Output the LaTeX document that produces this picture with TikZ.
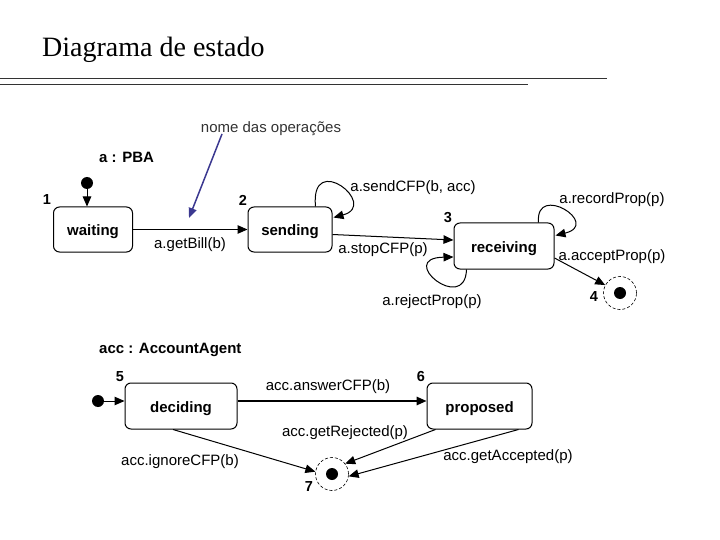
\documentclass[tikz,border=0pt]{standalone}
\usepackage{fontspec}
\setmainfont{Liberation Serif}
\setsansfont{Liberation Sans}
\usetikzlibrary{arrows.meta,calc}
\definecolor{notecol}{HTML}{3B3890}
\definecolor{txtgray}{HTML}{333333}
\begin{document}
\begin{tikzpicture}[x=1pt,y=-1pt,
  every node/.style={font=\sffamily\fontsize{15}{17}\selectfont, inner sep=0pt},
  state/.style={draw=black, line width=1pt, rounded corners=6pt, text height=12pt, text depth=0pt, font=\sffamily\bfseries\fontsize{15}{17}\selectfont},
  lbl/.style={font=\sffamily\fontsize{15}{17}\selectfont, yshift=-1.5pt},
  num/.style={font=\sffamily\bfseries\fontsize{14.5}{17}\selectfont},
  hdr/.style={font=\sffamily\bfseries\fontsize{15}{17}\selectfont, anchor=west},
  initdot/.style={circle, fill=black, minimum size=12pt},
  finring/.style={circle, draw=black, dashed, dash pattern=on 3pt off 2pt, line width=0.6pt, minimum size=33pt},
  findot/.style={circle, fill=black, minimum size=12pt},
  tr/.style={-{Triangle[length=10pt,width=8.5pt]}, line width=1pt},
]
\useasboundingbox (0,0) rectangle (720,540);

% title and rules
\node[font=\rmfamily\fontsize{28}{32}\selectfont, anchor=west] (title) at (42,50) {Diagrama de estado};
\coordinate (r1a) at (0,78); \coordinate (r1b) at (607,78);
\coordinate (r2a) at (0,84); \coordinate (r2b) at (528,84);
\draw[line width=0.8pt, black!80] (r1a) -- (r1b);
\draw[line width=0.8pt, black!80] (r2a) -- (r2b);

% annotation
\node[lbl, text=txtgray] (note) at (271,127) {nome das operações};
\coordinate (notetip) at (189,218);
\draw[-{Triangle[length=10pt,width=8pt]}, line width=1.5pt, notecol] (222,134) -- (notetip);

% ---------- a : PBA ----------
\node[hdr] (pba) at (99,157) {a : PBA};
\node[initdot] (i1) at (87,183) {};
\node[state, minimum width=79pt, minimum height=45pt] (waiting) at (93,229.5) {waiting};
\node[state, minimum width=84pt, minimum height=45pt] (sending) at (290,229.5) {sending};
\node[state, minimum width=100pt, minimum height=46pt] (recv) at (504,246) {receiving};
\node[finring] (f4) at (620,293) {};
\node[findot] (f4d) at (f4.center) {};

\node[num] (n1) at (47,200) {1};
\node[num] (n2) at (243,200) {2};
\node[num] (n3) at (448,218) {3};
\node[num] (n4) at (594,297) {4};

\draw[tr] (i1) -- (i1 |- waiting.north);
\draw[tr] (waiting.east) -- (sending.west);
\node[lbl] (lgetbill) at (190,243) {a.getBill(b)};

% sendCFP self loop
\draw[tr] ($(sending.north east)+(-17,0)$) .. controls (310,150) and (380,205) .. ($(sending.north east)+(1,11)$);
\node[lbl] (lsend) at (413,186) {a.sendCFP(b, acc)};

% stopCFP
\draw[tr] ($(sending.east)+(0,5)$) -- ($(recv.west)+(0,-6)$);
\node[lbl] (lstop) at (383,248) {a.stopCFP(p)};

% recordProp self loop
\draw[tr] ($(recv.north east)+(-16,0)$) .. controls (535,182) and (602,224) .. ($(recv.north east)+(1,13)$);
\node[lbl] (lrec) at (612,198) {a.recordProp(p)};

% rejectProp self loop
\draw[tr] ($(recv.south west)+(13,0)$) .. controls (465,315) and (395,258) .. ($(recv.west)+(0,11)$);
\node[lbl] (lrej) at (432,300) {a.rejectProp(p)};

% acceptProp
\draw[tr] ($(recv.east)+(0,12)$) -- (f4);
\node[lbl] (lacc) at (612,255) {a.acceptProp(p)};

% ---------- acc : AccountAgent ----------
\node[hdr] (aa) at (99,350) {acc : AccountAgent};
\node[initdot] (i5) at (98,401) {};
\node[state, minimum width=112pt, minimum height=46pt] (dec) at (181,406) {deciding};
\node[state, minimum width=105pt, minimum height=46pt] (prop) at (479.5,406) {proposed};
\node[finring] (f7) at (332,474) {};
\node[findot] (f7d) at (f7.center) {};

\node[num] (n5) at (120,377) {5};
\node[num] (n6) at (421,377) {6};
\node[num] (n7) at (309,487) {7};

\draw[tr] (i5) -- ($(dec.west)+(0,-5)$);
\draw[tr, line width=1.6pt] ($(dec.east)+(0,-5)$) -- ($(prop.west)+(0,-5)$);
\node[lbl] (lans) at (328,385) {acc.answerCFP(b)};

\draw[tr] ($(dec.south)+(-8,0)$) -- (f7.172);
\node[lbl] (lign) at (180,460) {acc.ignoreCFP(b)};

\draw[tr] ($(prop.south west)+(9,0)$) -- (f7.38);
\node[lbl] (lgrej) at (345,431) {acc.getRejected(p)};

\draw[tr] ($(prop.south east)+(-14,0)$) -- (f7.-8);
\node[lbl] (lgacc) at (508,455) {acc.getAccepted(p)};
\end{tikzpicture}
\end{document}
